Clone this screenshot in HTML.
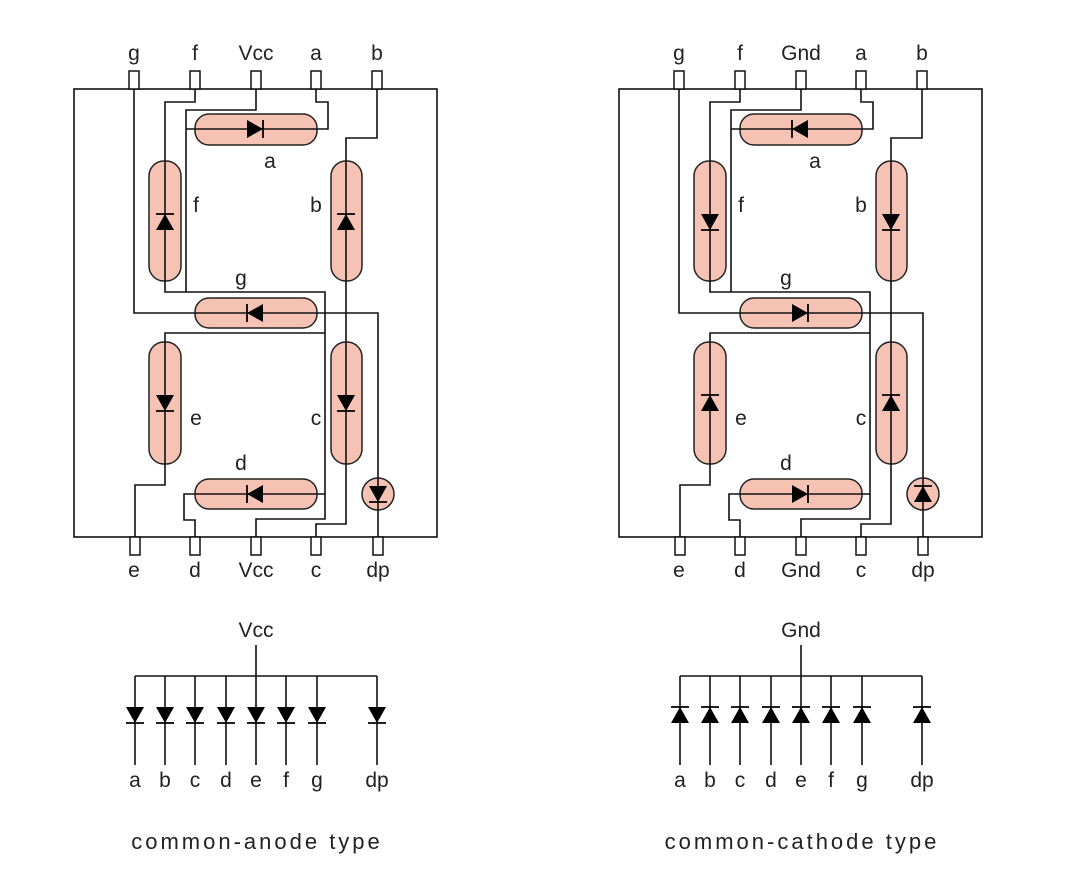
<!DOCTYPE html>
<html><head><meta charset="utf-8"><style>
html,body{margin:0;padding:0;background:#fff;}
svg{display:block}
text{font-family:"Liberation Sans","DejaVu Sans",sans-serif;font-size:21px;fill:#222;text-anchor:middle}
text.cap{font-size:22px;letter-spacing:3px}
.w{fill:none;stroke:#111;stroke-width:1.6}
.p{fill:#f6c2b4;stroke:#222;stroke-width:1.5}
.pin{fill:#fff;stroke:#111;stroke-width:1.5}
.d{fill:#000}
</style></head><body>
<svg width="1078" height="871" viewBox="0 0 1078 871">
<defs>
<g id="dr"><polygon class="d" points="-8,-9 -8,9 8,0"/><line x1="8" y1="-9" x2="8" y2="9" stroke="#000" stroke-width="1.8"/></g>
</defs>

<g id="L">
<rect class="w" x="74" y="89" width="363" height="448"/>
<rect class="p" x="195" y="114" width="122" height="31" rx="14"/>
<rect class="p" x="195" y="298" width="122" height="30" rx="14"/>
<rect class="p" x="195" y="479" width="122" height="30" rx="14"/>
<rect class="p" x="149" y="161" width="32" height="120" rx="15"/>
<rect class="p" x="331" y="161" width="31" height="120" rx="15"/>
<rect class="p" x="149" y="342" width="32" height="122" rx="15"/>
<rect class="p" x="331" y="342" width="31" height="122" rx="15"/>
<circle class="p" cx="378" cy="494" r="16"/>
<path class="w" d="M134 89 V313 H378 V537"/>
<path class="w" d="M195 89 V102 H165 V292 H325 V519 H256 V537"/>
<path class="w" d="M186 292 V110 H256 V89"/>
<path class="w" d="M186 129 H328 V102 H316 V89"/>
<path class="w" d="M377 89 V138 H346 V524 H316 V537"/>
<path class="w" d="M325 333 H165 V485 H135 V537"/>
<path class="w" d="M325 494 H184 V520 H195 V537"/>
<rect class="pin" x="129" y="71" width="10" height="18"/>
<rect class="pin" x="190" y="71" width="10" height="18"/>
<rect class="pin" x="251" y="71" width="10" height="18"/>
<rect class="pin" x="311" y="71" width="10" height="18"/>
<rect class="pin" x="372" y="71" width="10" height="18"/>
<rect class="pin" x="130" y="537" width="10" height="18"/>
<rect class="pin" x="190" y="537" width="10" height="18"/>
<rect class="pin" x="251" y="537" width="10" height="18"/>
<rect class="pin" x="311" y="537" width="10" height="18"/>
<rect class="pin" x="373" y="537" width="10" height="18"/>
</g>
<use href="#dr" transform="translate(255,129)"/>
<use href="#dr" transform="translate(165,222) rotate(-90)"/>
<use href="#dr" transform="translate(346,222) rotate(-90)"/>
<use href="#dr" transform="translate(255,313) rotate(180)"/>
<use href="#dr" transform="translate(165,403) rotate(90)"/>
<use href="#dr" transform="translate(346,403) rotate(90)"/>
<use href="#dr" transform="translate(255,494) rotate(180)"/>
<use href="#dr" transform="translate(378,494) rotate(90)"/>
<text x="134" y="60">g</text><text x="195" y="60">f</text><text x="256" y="60">Vcc</text><text x="316" y="60">a</text><text x="377" y="60">b</text>
<text x="134" y="577">e</text><text x="195" y="577">d</text><text x="256" y="577">Vcc</text><text x="316" y="577">c</text><text x="378" y="577">dp</text>
<text x="270" y="168">a</text><text x="196" y="212">f</text><text x="316" y="212">b</text><text x="241" y="285">g</text>
<text x="196" y="425">e</text><text x="316" y="425">c</text><text x="241" y="470">d</text>

<use href="#L" transform="translate(545,0)"/>
<use href="#dr" transform="translate(800,129) rotate(180)"/>
<use href="#dr" transform="translate(710,222) rotate(90)"/>
<use href="#dr" transform="translate(891,222) rotate(90)"/>
<use href="#dr" transform="translate(800,313)"/>
<use href="#dr" transform="translate(710,403) rotate(-90)"/>
<use href="#dr" transform="translate(891,403) rotate(-90)"/>
<use href="#dr" transform="translate(800,494)"/>
<use href="#dr" transform="translate(923,494) rotate(-90)"/>
<text x="679" y="60">g</text><text x="740" y="60">f</text><text x="801" y="60">Gnd</text><text x="861" y="60">a</text><text x="922" y="60">b</text>
<text x="679" y="577">e</text><text x="740" y="577">d</text><text x="801" y="577">Gnd</text><text x="861" y="577">c</text><text x="923" y="577">dp</text>
<text x="815" y="168">a</text><text x="741" y="212">f</text><text x="861" y="212">b</text><text x="786" y="285">g</text>
<text x="741" y="425">e</text><text x="861" y="425">c</text><text x="786" y="470">d</text>

<text x="256" y="637">Vcc</text>
<path class="w" d="M256 645 V676 M135 676 H377 M135 676 V765 M165 676 V765 M195 676 V765 M226 676 V765 M256 676 V765 M286 676 V765 M317 676 V765 M377 676 V765"/>
<use href="#dr" transform="translate(135,715) rotate(90)"/>
<use href="#dr" transform="translate(165,715) rotate(90)"/>
<use href="#dr" transform="translate(195,715) rotate(90)"/>
<use href="#dr" transform="translate(226,715) rotate(90)"/>
<use href="#dr" transform="translate(256,715) rotate(90)"/>
<use href="#dr" transform="translate(286,715) rotate(90)"/>
<use href="#dr" transform="translate(317,715) rotate(90)"/>
<use href="#dr" transform="translate(377,715) rotate(90)"/>
<text x="135" y="787">a</text><text x="165" y="787">b</text><text x="195" y="787">c</text><text x="226" y="787">d</text><text x="256" y="787">e</text><text x="286" y="787">f</text><text x="317" y="787">g</text><text x="377" y="787">dp</text>
<text class="cap" x="257" y="849">common-anode type</text>

<text x="801" y="637">Gnd</text>
<path class="w" d="M801 645 V676 M680 676 H922 M680 676 V765 M710 676 V765 M740 676 V765 M771 676 V765 M801 676 V765 M831 676 V765 M862 676 V765 M922 676 V765"/>
<use href="#dr" transform="translate(680,715) rotate(-90)"/>
<use href="#dr" transform="translate(710,715) rotate(-90)"/>
<use href="#dr" transform="translate(740,715) rotate(-90)"/>
<use href="#dr" transform="translate(771,715) rotate(-90)"/>
<use href="#dr" transform="translate(801,715) rotate(-90)"/>
<use href="#dr" transform="translate(831,715) rotate(-90)"/>
<use href="#dr" transform="translate(862,715) rotate(-90)"/>
<use href="#dr" transform="translate(922,715) rotate(-90)"/>
<text x="680" y="787">a</text><text x="710" y="787">b</text><text x="740" y="787">c</text><text x="771" y="787">d</text><text x="801" y="787">e</text><text x="831" y="787">f</text><text x="862" y="787">g</text><text x="922" y="787">dp</text>
<text class="cap" x="802" y="849">common-cathode type</text>
</svg>
</body></html>
